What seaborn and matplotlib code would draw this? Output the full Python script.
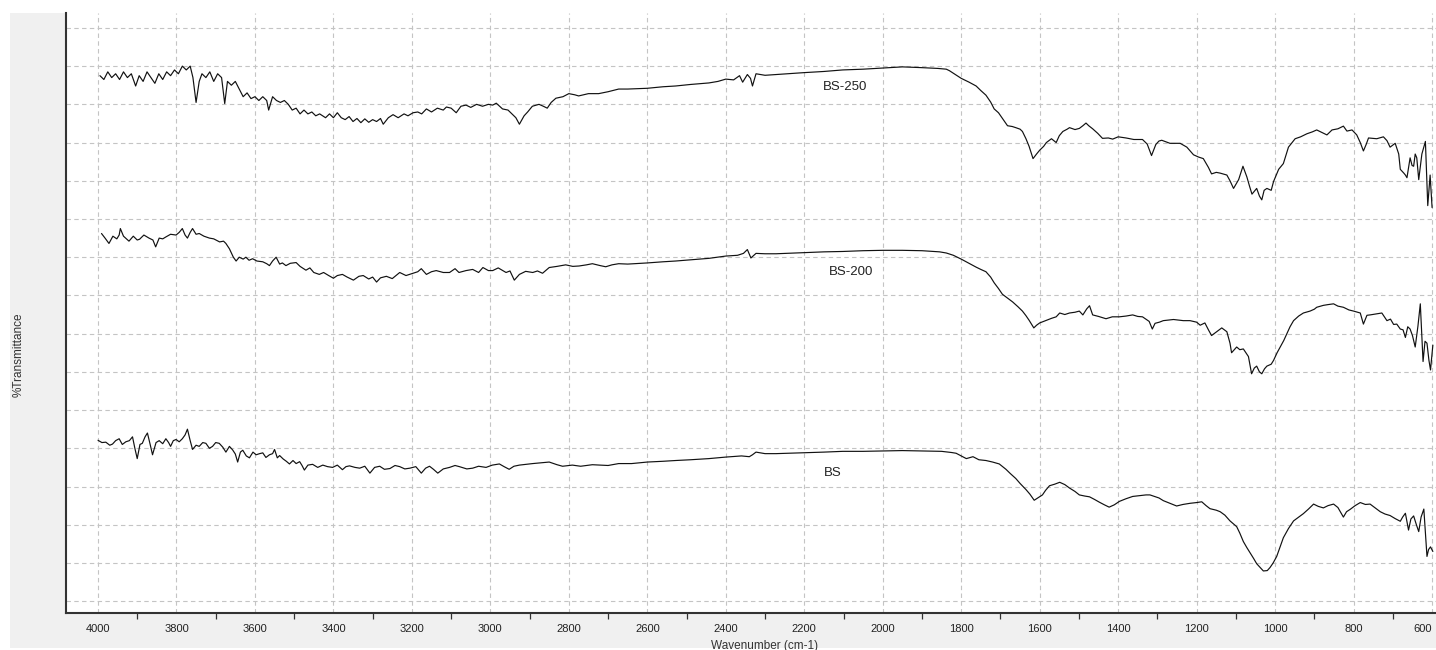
import numpy as np
import pandas as pd
import matplotlib
matplotlib.use("Agg")
import matplotlib.pyplot as plt
from matplotlib.patches import Rectangle
from matplotlib.ticker import MultipleLocator, NullFormatter
import seaborn as sns

# ---------------- data ----------------
wn_bs250 = [3995,3985,3975,3965,3955,3945,3935,3925,3915,3904,3895,3885,3875,3865,3855,3845,3835,3825,3815,3805,
            3795,3785,3775,3765,3758,3750,3742,3735,3725,3715,3705,3695,3685,3677,3670,3660,3650,3640,3630,3620,
            3610,3600,3590,3580,3570,3565,3555,3545,3535,3525,3515,3505,3495,3485,3475,3465,3455,3445,3435,3420,
            3410,3400,3390,3380,3370,3360,3350,3340,3330,3320,3310,3300,3290,3280,3273,3260,3248,3235,3220,3210,
            3197,3185,3175,3163,3150,3135,3120,3112,3100,3087,3075,3062,3050,3035,3020,3005,2994,2985,2969,2955,
            2943,2935,2926,2914,2905,2893,2876,2865,2855,2845,2833,2815,2800,2785,2775,2750,2724,2700,2673,2650,
            2600,2560,2528,2490,2443,2420,2400,2380,2365,2357,2345,2337,2332,2323,2300,2272,2240,2200,2150,2102,
            2050,2000,1950,1900,1860,1838,1830,1815,1800,1780,1762,1750,1737,1725,1716,1705,1695,1682,1670,1661,
            1650,1644,1635,1627,1617,1608,1600,1590,1583,1570,1558,1550,1541,1530,1524,1510,1499,1490,1482,1475,
            1465,1452,1440,1425,1414,1400,1380,1360,1338,1326,1315,1304,1296,1289,1268,1242,1225,1208,1195,1183,
            1170,1162,1150,1140,1123,1115,1106,1093,1082,1072,1065,1059,1047,1040,1034,1028,1021,1010,1004,991,
            979,966,949,935,919,905,894,880,868,855,840,826,817,804,792,783,775,768,762,741,
            724,715,707,694,685,681,672,668,664,656,651,647,643,639,634,626,617,611,605,600]
t_bs250 = [137.5,136.5,138.5,137,138,136.5,138.5,137,138,134.8,137.5,136,138.5,137,135.5,138,136.5,138.5,137.5,139,
           138,140,139,140,137,130.5,136,138,137,138.5,136,138,137,130.2,136,135,136,134,132,133,
           131.5,132,131,132,131,128.5,132,131,130.5,131,130,128.5,129,127.5,128.5,127.5,128,127,127.5,126.5,
           127.5,126.5,127.8,126.5,126,126.8,125.5,126.3,125.2,126.2,125.3,126,125.5,126.3,124.8,126.5,127.3,126.5,127.5,127,
           127.8,128,127.5,128.8,128,129,128.5,129.3,129,127.8,129.5,129.8,129.2,130,129.5,130,129.8,130.3,128.8,128.5,
           127.3,126.5,124.8,127,128,129.5,130,129.5,129,130.5,131.6,132,132.8,132.5,132.2,132.8,132.8,133.3,134,134,
           134.2,134.6,134.8,135.2,135.6,136,136.6,136.4,137.5,135.8,137.8,136.8,134.8,138,137.6,137.8,138,138.3,138.6,139,
           139.2,139.5,139.8,139.6,139.4,139.2,138.8,137.8,136.8,135.8,134.8,133.6,132.4,130.6,128.8,127.8,126.3,124.4,124.2,123.9,
           123.5,122.9,121,119,115.8,117,118,119,120,121,120,121.8,122.9,123.5,123.9,123.4,123.7,124.4,125.1,124.4,
           123.6,122.4,121.1,121.2,120.9,121.5,121.2,120.8,120.8,119.6,116.6,119.5,120.4,120.6,119.8,119.8,118.8,116.8,116.2,115.8,
           113.5,111.8,112.2,112,111.5,110,108,110.3,113.8,111,108.5,106.5,108,106,105,107.5,108,107.5,109.8,113,
           114.5,118.8,121,121.5,122.3,122.8,123.3,122.6,122,123.3,123.6,124.3,123,123.3,122,120,117.8,119.5,121.2,121,
           121.5,120.5,118.8,119.8,117,113,112,111.5,110.8,116,114,113.8,117,116,110.3,117,120.3,103.5,111.5,103]

wn_bs200 = [3991,3982,3972,3962,3952,3946,3943,3935,3921,3910,3900,3894,3883,3870,3860,3853,3844,3835,3827,3815,
            3801,3793,3785,3778,3772,3765,3759,3750,3742,3730,3716,3705,3690,3680,3674,3665,3655,3648,3640,3630,
            3623,3615,3606,3595,3580,3570,3563,3555,3546,3537,3530,3521,3510,3495,3485,3470,3460,3450,3436,3425,
            3412,3400,3390,3377,3365,3349,3335,3324,3310,3300,3290,3280,3265,3250,3231,3215,3197,3185,3176,3163,
            3150,3138,3120,3104,3090,3080,3062,3045,3030,3019,3005,2994,2980,2960,2950,2939,2926,2910,2892,2880,
            2867,2850,2830,2808,2790,2774,2755,2740,2720,2706,2690,2673,2650,2600,2560,2528,2480,2443,2400,2370,
            2355,2345,2340,2336,2323,2300,2272,2200,2150,2102,2050,2000,1950,1900,1855,1838,1820,1800,1780,1762,
            1750,1737,1725,1716,1705,1695,1682,1669,1655,1644,1635,1627,1615,1608,1600,1590,1583,1570,1558,1549,
            1536,1524,1510,1499,1490,1480,1473,1465,1450,1431,1415,1397,1380,1363,1350,1338,1321,1313,1306,1295,
            1285,1259,1234,1217,1200,1191,1179,1170,1162,1149,1136,1123,1115,1111,1098,1090,1081,1068,1060,1053,
            1047,1040,1034,1027,1021,1010,1004,995,987,978,970,962,953,940,928,911,900,894,877,865,
            851,840,826,812,800,783,775,766,758,740,728,715,706,698,690,681,674,668,662,656,
            650,643,636,630,623,618,613,608,604,598]
t_bs200 = [96.2,95,93.6,95.5,94.8,95.8,97.5,95.5,94.2,95.5,94.5,94.7,95.8,95,94.5,92.7,95,94.8,95.3,96,
           95.8,96.5,97.5,95.8,95,96.5,97.5,96,96.2,95.5,95,94.8,94,94.2,93.6,92.2,90,89,90,89.5,
           90,89.2,89.6,89,88.8,88.3,87.8,89,90,88.2,88.5,87.8,88.4,88.6,87.6,86.6,87.2,86,85.5,86,
           85.2,84.5,85.2,85.5,84.8,84,85,85.2,84.3,84.8,83.5,84.6,85,84.4,86,85.2,85.8,86.2,87,85.5,
           86.2,86.5,86,86,87,86,86.5,86.8,86,87.3,86.5,86.5,87.2,86,86.4,84,85.5,86.3,86,86.4,
           85.8,87.3,87.6,88,87.6,87.7,88,88.3,87.8,87.5,88,88.3,88.2,88.5,88.8,89,89.4,89.7,90.3,90.5,
           91,92,90.8,89.8,91,90.9,90.9,91.2,91.4,91.5,91.7,91.8,91.8,91.7,91.4,91.1,90.5,89.5,88.4,87.4,
           86.8,86.2,84.8,83.3,81.8,80.3,79.3,78.3,77,75.9,74.7,73.5,71.5,72.2,72.8,73.2,73.5,74,74.4,75.4,
           75,75.4,75.6,75.9,74.9,76.5,77.3,74.9,74.5,73.9,74.4,74.4,74.6,74.9,74.5,74.4,73.2,71.2,72.7,73,
           73.4,73.7,73.4,73.4,73,72.2,72.8,71,69.5,70.5,71.5,70.5,67.5,65,66.5,65.8,66,64,59.5,61,
           61.5,60,59.5,60.8,61.5,62,63,65,66.5,68.2,70,71.8,73.4,74.6,75.4,75.9,76.4,76.9,77.4,77.6,
           77.8,77.2,76.9,76.2,75.9,75.4,72.5,74.8,74.9,75.2,75.4,73.4,73.8,72.4,72.5,71.2,71,69,71.8,71.2,
           69.5,66.5,72,77.8,62.7,68,67.5,63,60.5,67]

wn_bs = [4000,3990,3980,3970,3963,3955,3946,3938,3929,3920,3912,3906,3900,3893,3887,3880,3874,3867,3861,3852,
         3844,3835,3827,3820,3815,3808,3801,3793,3785,3778,3772,3765,3759,3750,3742,3733,3725,3716,3708,3700,
         3691,3682,3674,3665,3657,3650,3644,3637,3631,3622,3614,3605,3597,3588,3580,3572,3563,3555,3550,3543,
         3537,3528,3520,3512,3503,3495,3486,3480,3474,3465,3453,3440,3427,3415,3402,3390,3377,3368,3359,3345,
         3333,3320,3307,3295,3282,3270,3256,3243,3231,3218,3205,3190,3176,3165,3155,3145,3134,3120,3104,3090,
         3079,3060,3045,3030,3011,2995,2977,2965,2952,2940,2926,2910,2892,2870,2850,2830,2816,2800,2791,2770,
         2740,2700,2673,2640,2600,2560,2528,2490,2443,2400,2360,2340,2332,2323,2300,2272,2240,2200,2150,2102,
         2050,2000,1950,1900,1850,1825,1813,1800,1787,1770,1755,1737,1720,1703,1686,1675,1661,1650,1635,1625,
         1614,1605,1593,1585,1575,1562,1549,1536,1524,1510,1499,1485,1473,1460,1448,1435,1423,1410,1397,1380,
         1363,1345,1329,1319,1296,1285,1268,1251,1235,1217,1200,1187,1176,1166,1150,1140,1128,1115,1098,1090,
         1081,1072,1064,1055,1047,1038,1030,1020,1013,1005,996,988,979,966,953,940,928,915,902,890,
         877,865,851,840,826,818,809,796,783,770,758,745,732,720,707,694,681,675,668,660,
         654,647,640,634,628,621,613,609,604,598]
t_bs = [42.1,41.5,41.6,40.8,41.1,42,42.5,41,41.7,42,43,40,37.3,41,41.3,43,44,41,38.3,41.5,
        42,41.2,42.5,41.5,40.5,42,42.3,41.7,42.5,43.5,45,42,39.7,40.8,40.5,41.5,41.3,40,40.5,41.5,
        41.3,40.3,39,40.5,39.6,38.5,36.4,39,39.5,38,37.5,39,38.3,38.6,38.8,37.6,38.3,38.6,39.7,37.5,
        38.1,37.2,36.6,35.9,36.8,36,36.5,35.5,34.3,35.6,35.8,35,35.6,35.2,35,35.6,34.4,35.2,35.4,35,
        34.8,35.3,33.5,35,35.3,34.5,34.7,35.5,35.2,34.6,34.8,35.2,33.5,34.8,35.3,34.5,33.5,34.6,35,35.5,
        35.2,34.6,34.8,35.3,35,35.6,35.9,35.2,34.5,35.3,35.6,35.8,36,36.2,36.4,35.7,35.3,35.5,35.6,35.3,
        35.7,35.5,36,36,36.4,36.6,36.8,37,37.3,37.7,38,37.8,38.3,39,38.6,38.6,38.7,38.8,39,39.2,
        39.2,39.3,39.4,39.3,39.2,38.9,38.7,38,37.3,37.8,37,36.8,36.4,35.9,34.5,33.4,32.1,30.8,29.2,28,
        26.4,27,27.8,29,30.2,30.6,31.1,30.5,29.6,28.7,27.8,27.5,27.3,26.6,25.9,25.2,24.6,25.2,26.1,26.8,
        27.4,27.6,27.8,27.8,27,26.3,25.6,24.9,25.3,25.6,25.8,26,25,24.2,23.8,23.4,22.5,21,19.5,17.8,
        15.6,14,12.7,11.2,9.8,8.8,7.9,8,8.8,10,11.7,14,16.6,19,21,22,22.9,24.1,25.4,24.8,
        24.4,25,25.4,24.5,22,23.4,24,25,25.8,25.3,25.4,24.4,23.4,22.8,22.4,21.6,20.9,22,23,18.6,
        21.5,22.3,20,18.2,22,24.1,11.7,13.5,14.2,13]

series_names = ["BS-250", "BS-200", "BS"]
label_wn = [2096, 2081, 2127]
label_t = [134.5, 86.0, 33.5]

x_major_ticks = list(range(600, 4001, 200))

# ---------------- build table ----------------
frames = []
for name, wn, t in zip(series_names, [wn_bs250, wn_bs200, wn_bs], [t_bs250, t_bs200, t_bs]):
    frames.append(pd.DataFrame({"wavenumber": wn, "transmittance": t, "sample": name}))
df = pd.concat(frames, ignore_index=True)

# ---------------- style ----------------
sns.set_theme(style="white")
plt.rcParams["font.family"] = ["Liberation Sans", "DejaVu Sans"]

W, H = 1436, 650
fig = plt.figure(figsize=(W / 100, H / 100), dpi=100, facecolor="white")
fig.patches.append(Rectangle((10 / W, 2 / H), 1, (H - 13 - 2) / H, transform=fig.transFigure,
                             facecolor="#f0f0f0", edgecolor="none", zorder=-10))

ax = fig.add_axes([66 / W, (H - 613) / H, (W - 66) / W, (613 - 13) / H])
ax.set_facecolor("white")

for name in series_names:
    sub = df[df["sample"] == name]
    sns.lineplot(data=sub, x="wavenumber", y="transmittance", ax=ax, color="#111111",
                 linewidth=0.85, estimator=None, sort=False, legend=False)

for name, xw, yt in zip(series_names, label_wn, label_t):
    ax.text(xw, yt, name, fontsize=9.5, color="#222222", ha="center", va="center")

ax.set_xlim(4081.5, 590)
ax.set_ylim(-3.1, 153.9)

ax.set_xticks(x_major_ticks)
ax.set_xticklabels([str(v) for v in x_major_ticks])
ax.xaxis.set_minor_locator(MultipleLocator(20))
ax.yaxis.set_major_locator(MultipleLocator(10))
ax.yaxis.set_minor_locator(MultipleLocator(2))
ax.yaxis.set_major_formatter(NullFormatter())

ax.tick_params(axis="x", which="major", direction="out", length=6, width=1, color="#333333",
               labelsize=8, labelcolor="#222222", pad=2)
ax.tick_params(axis="x", which="minor", direction="out", length=2.2, width=0.8, color="#333333")
ax.tick_params(axis="y", which="major", direction="out", length=26, width=1.3, color="#333333")
ax.tick_params(axis="y", which="minor", direction="out", length=3.5, width=0.8, color="#333333")

# the last label sits at the very edge of the plot, as in the reference
for lbl in ax.get_xticklabels():
    if lbl.get_text() == "600":
        lbl.set_horizontalalignment("right")
        lbl.set_x(600)

# medium ticks at every 100
sec = ax.secondary_xaxis("bottom")
sec.set_xticks(list(range(700, 4001, 200)))
sec.tick_params(axis="x", which="major", direction="out", length=4, width=0.9, color="#333333",
                labelbottom=False)
sec.spines["bottom"].set_visible(False)

ax.grid(True, which="major", axis="both", color="#c4c4c4", linestyle=(0, (4, 3)), linewidth=0.8)
ax.set_axisbelow(True)

for s in ["top", "right"]:
    ax.spines[s].set_visible(False)
for s in ["left", "bottom"]:
    ax.spines[s].set_color("#333333")
    ax.spines[s].set_linewidth(1.5)

ax.set_xlabel("Wavenumber (cm-1)", fontsize=8.5, color="#333333")
ax.set_ylabel("%Transmittance", fontsize=8.5, color="#333333")
ax.xaxis.set_label_coords(0.51, -0.045)
ax.yaxis.set_label_coords(-0.030, 0.43)

fig.savefig("out.png", dpi=100, facecolor=fig.get_facecolor())
